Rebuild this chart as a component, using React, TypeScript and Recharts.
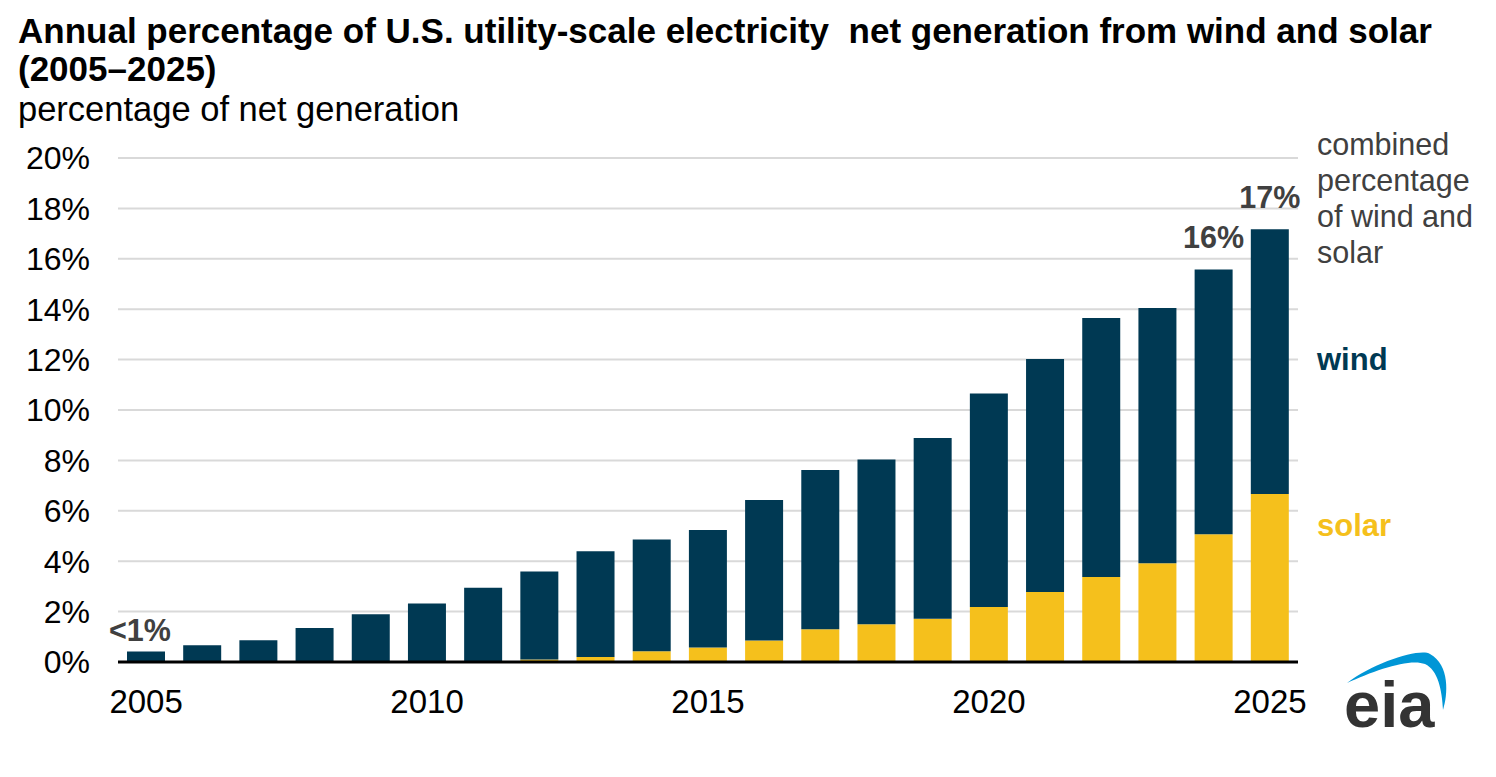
import { Bar, BarChart, CartesianGrid, LabelList, XAxis, YAxis } from "recharts";

// values (percent of U.S. utility-scale net generation)
const years = [
    "2005", "2006", "2007", "2008", "2009", "2010", "2011", "2012", "2013", "2014",
    "2015", "2016", "2017", "2018", "2019", "2020", "2021", "2022", "2023", "2024", "2025",
];
const solar = [
    0, 0, 0, 0, 0, 0, 0.04, 0.1, 0.2, 0.43,
    0.58, 0.85, 1.3, 1.5, 1.72, 2.18, 2.78, 3.37, 3.92, 5.07, 6.67,
];
const wind = [
    0.42, 0.66, 0.86, 1.35, 1.89, 2.32, 2.91, 3.49, 4.19, 4.43,
    4.66, 5.58, 6.32, 6.54, 7.17, 8.47, 9.24, 10.28, 10.13, 10.51, 10.5,
];
// combined-share callouts: the small one sits lower and a bit left of its bar
const smallLabels = ["<1%", "", "", "", "", "", "", "", "", "", "", "", "", "", "", "", "", "", "", "", ""];
const totalLabels = ["", "", "", "", "", "", "", "", "", "", "", "", "", "", "", "", "", "", "", "16%", "17%"];
const yTicks = [0, 2, 4, 6, 8, 10, 12, 14, 16, 18, 20];

const WIND = "#003953";
const SOLAR = "#f5c01c";
const LABEL_GRAY = "#404040";
const SANS = "'Liberation Sans', Arial, sans-serif";

const rows = years.map((year, i) => ({
    year,
    solar: solar[i],
    wind: wind[i],
    small: smallLabels[i],
    total: totalLabels[i],
}));

const abs = (left: number, top: number): React.CSSProperties => ({
    position: "absolute",
    left,
    top,
    whiteSpace: "nowrap",
});

export default function App() {
    return (
        <div
            style={{
                position: "absolute",
                left: 0,
                top: 0,
                width: 1496,
                height: 777,
                background: "#fff",
                fontFamily: SANS,
            }}
        >
            <div style={{ ...abs(18, 12), fontWeight: 700, fontSize: 35, lineHeight: "38px", color: "#000" }}>
                Annual percentage of U.S. utility-scale electricity{"\u00a0"} net generation from wind and solar
                <br />
                (2005–2025)
            </div>
            <div style={{ ...abs(18, 89), fontSize: 34.5, lineHeight: "40px", color: "#000" }}>
                percentage of net generation
            </div>

            <BarChart
                width={1496}
                height={777}
                data={rows}
                margin={{ top: 158, right: 198, bottom: 0, left: 0 }}
                style={{ position: "absolute", left: 0, top: 0 }}
            >
                <CartesianGrid vertical={false} stroke="#d9d9d9" strokeWidth={2} />
                <YAxis
                    width={118}
                    domain={[0, 20]}
                    ticks={yTicks}
                    interval={0}
                    tickFormatter={(v) => `${v}%`}
                    axisLine={false}
                    tickLine={false}
                    tickSize={0}
                    tickMargin={28}
                    tick={{ fontSize: 32, fill: "#000", fontFamily: SANS }}
                />
                <XAxis
                    dataKey="year"
                    height={115}
                    interval={4}
                    tickLine={false}
                    tickSize={0}
                    tickMargin={28}
                    axisLine={{ stroke: "#000", strokeWidth: 3 }}
                    tick={{ fontSize: 33, fill: "#000", fontFamily: SANS }}
                />
                <Bar dataKey="solar" stackId="a" fill={SOLAR} barSize={38} isAnimationActive={false} />
                <Bar dataKey="wind" stackId="a" fill={WIND} barSize={38} isAnimationActive={false}>
                    <LabelList
                        dataKey="small"
                        position="top"
                        offset={10}
                        dx={-6}
                        fill={LABEL_GRAY}
                        fontSize={30.5}
                        fontWeight={700}
                        fontFamily={SANS}
                    />
                    <LabelList
                        dataKey="total"
                        position="top"
                        offset={21}
                        fill={LABEL_GRAY}
                        fontSize={30.5}
                        fontWeight={700}
                        fontFamily={SANS}
                    />
                </Bar>
            </BarChart>

            <div style={{ ...abs(1317, 126), fontSize: 30.5, lineHeight: "36px", color: LABEL_GRAY }}>
                combined
                <br />
                percentage
                <br />
                of wind and
                <br />
                solar
            </div>
            <div style={{ ...abs(1317, 342), fontSize: 31, fontWeight: 700, color: WIND }}>wind</div>
            <div style={{ ...abs(1317, 508), fontSize: 31, fontWeight: 700, color: SOLAR }}>solar</div>

            <svg width={130} height={100} style={{ position: "absolute", left: 1330, top: 640 }}>
                <path
                    d="M17 43 C45 22 90 8 100 14 C120 25 118 55 113 70 C112 50 108 30 95 24 C80 18 45 30 17 43 Z"
                    fill="#0096d6"
                />
                <text x={14} y={87} fontFamily={SANS} fontWeight={700} fontSize={65} fill="#333">
                    eia
                </text>
            </svg>
        </div>
    );
}
